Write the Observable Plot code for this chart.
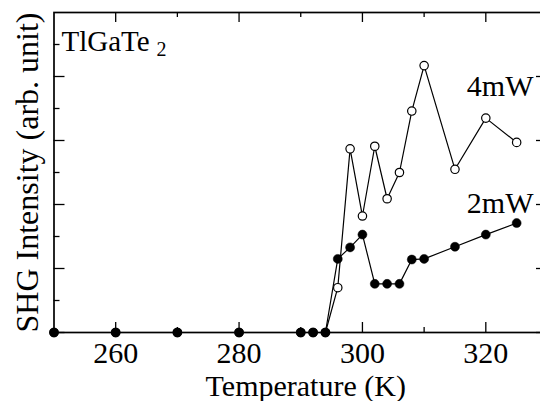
<!DOCTYPE html>
<html>
<head>
<meta charset="utf-8">
<script src="https://cdn.jsdelivr.net/npm/d3@7"></script>
<script src="https://cdn.jsdelivr.net/npm/@observablehq/plot@0.6"></script>
<style>
  html, body { margin: 0; padding: 0; background: white; overflow: hidden; }
  #chart svg { overflow: hidden; }
  #chart svg text { font-family: "Liberation Serif", "Times New Roman", serif !important; }
</style>
</head>
<body>
<div id="chart"></div>
<script>
const temperature = [250, 260, 270, 280, 290, 292, 294, 296, 298, 300, 302, 304, 306, 308, 310, 315, 320, 325];
const shg2mW = [0, 0, 0, 0, 0, 0, 0, 1.15, 1.33, 1.53, 0.76, 0.76, 0.76, 1.14, 1.15, 1.34, 1.53, 1.71];
const shg4mW = [0, 0, 0, 0, 0, 0, 0, 0.70, 2.87, 1.82, 2.91, 2.09, 2.50, 3.46, 4.17, 2.55, 3.35, 2.97];

const xMajorTicks = [260, 280, 300, 320];
const xMinorTicks = [270, 290, 310];
const yMajorTicks = [0, 1, 2, 3, 4];
const yMinorTicks = [0.5, 1.5, 2.5, 3.5, 4.5];
const xTickLabels = ["260", "280", "300", "320"];

const data2 = temperature.map((t, i) => ({t, v: shg2mW[i]}));
const data4 = temperature.map((t, i) => ({t, v: shg4mW[i]}));
const xLabels = xMajorTicks.map((t, i) => ({t, label: xTickLabels[i]}));

const W = 540, H = 401;
const mL = 53.5, mR = -7, mT = 12, mB = 69;
const fw = W - mL - mR, fh = H - mT - mB;
const font = "'Liberation Serif', 'Times New Roman', serif";
const txt = {fill: "black", fontFamily: font};

const chart = Plot.plot({
  width: W,
  height: H,
  marginLeft: mL,
  marginRight: mR,
  marginTop: mT,
  marginBottom: mB,
  style: {fontFamily: font, background: "white", overflow: "hidden"},
  x: {domain: [250, 330], axis: null},
  y: {domain: [0, 5], axis: null},
  marks: [
    Plot.ruleX(xMajorTicks, {x: d => d, insetTop: fh - 10, stroke: "black", strokeWidth: 1.3}),
    Plot.ruleX(xMinorTicks, {x: d => d, insetTop: fh - 5, stroke: "black", strokeWidth: 1.3}),
    Plot.ruleX(xMajorTicks, {x: d => d, insetBottom: fh - 10, stroke: "black", strokeWidth: 1.3}),
    Plot.ruleX(xMinorTicks, {x: d => d, insetBottom: fh - 5, stroke: "black", strokeWidth: 1.3}),
    Plot.ruleY(yMajorTicks, {y: d => d, insetRight: fw - 11, stroke: "black", strokeWidth: 1.3}),
    Plot.ruleY(yMinorTicks, {y: d => d, insetRight: fw - 6, stroke: "black", strokeWidth: 1.3}),
    Plot.ruleY(yMajorTicks, {y: d => d, insetLeft: fw - 11, stroke: "black", strokeWidth: 1.3}),
    Plot.ruleY(yMinorTicks, {y: d => d, insetLeft: fw - 6, stroke: "black", strokeWidth: 1.3}),
    Plot.frame({stroke: "black", strokeWidth: 1.7}),
    Plot.text(xLabels, {x: "t", text: "label", frameAnchor: "bottom", textAnchor: "middle", lineAnchor: "bottom", dy: 30, fontSize: 30, ...txt}),
    Plot.text(["Temperature (K)"], {frameAnchor: "bottom", textAnchor: "middle", lineAnchor: "bottom", dx: 5, dy: 63, fontSize: 30, ...txt}),
    Plot.text(["SHG Intensity (arb. unit)"], {frameAnchor: "left", textAnchor: "middle", lineAnchor: "bottom", rotate: -90, dx: -16.5, fontSize: 32, ...txt}),
    Plot.text(["TlGaTe"], {frameAnchor: "top-left", textAnchor: "start", lineAnchor: "bottom", dx: 7.5, dy: 38, fontSize: 29, ...txt}),
    Plot.text(["2"], {frameAnchor: "top-left", textAnchor: "start", lineAnchor: "bottom", dx: 102.5, dy: 43.5, fontSize: 20, ...txt}),
    Plot.text(["4mW"], {frameAnchor: "top-right", textAnchor: "end", lineAnchor: "bottom", dx: -14, dy: 83, fontSize: 30, ...txt}),
    Plot.text(["2mW"], {frameAnchor: "top-right", textAnchor: "end", lineAnchor: "bottom", dx: -14, dy: 200, fontSize: 30, ...txt}),
    Plot.line(data4, {x: "t", y: "v", stroke: "black", strokeWidth: 1.2}),
    Plot.line(data2, {x: "t", y: "v", stroke: "black", strokeWidth: 1.2}),
    Plot.dot(data4, {x: "t", y: "v", r: 4.2, fill: "white", stroke: "black", strokeWidth: 1.2}),
    Plot.dot(data2, {x: "t", y: "v", r: 4.5, fill: "black", stroke: "black", strokeWidth: 0.5})
  ]
});
document.getElementById("chart").appendChild(chart);
</script>
</body>
</html>
